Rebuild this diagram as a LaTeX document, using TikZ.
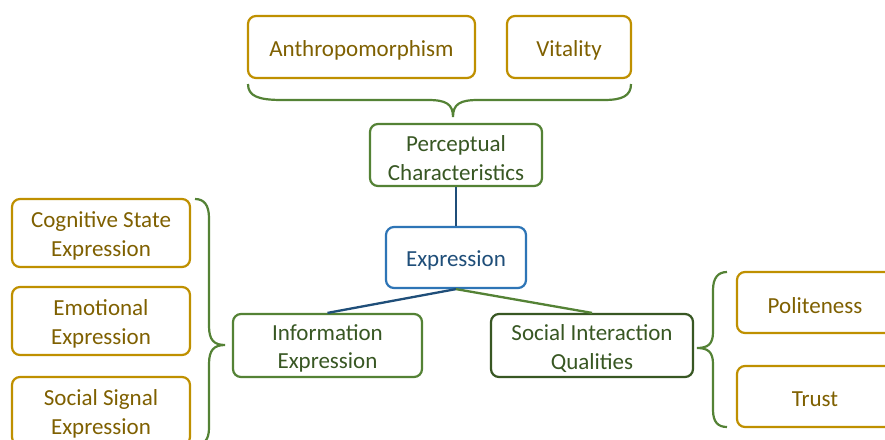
\documentclass[tikz,border=0pt]{standalone}
\usepackage{fontspec}
\setmainfont{Carlito}
\definecolor{golddraw}{HTML}{BF9000}
\definecolor{goldtext}{HTML}{7F6000}
\definecolor{greendraw}{HTML}{548235}
\definecolor{greentext}{HTML}{385723}
\definecolor{bluedraw}{HTML}{2E75B6}
\definecolor{bluetext}{HTML}{1F4E79}
\begin{document}
\begin{tikzpicture}[x=1pt,y=-1pt,
  box/.style={draw, rectangle, rounded corners=8pt, line width=2.2pt, fill=white, inner sep=0pt},
  goldbox/.style={box, draw=golddraw},
  greenbox/.style={box, draw=greendraw},
  bluebox/.style={box, draw=bluedraw},
  darkbox/.style={box, draw=greentext},
  txt/.style={align=center, inner sep=0pt, font=\fontsize{23}{28.5}\selectfont, yshift=-3pt},
  goldtxt/.style={txt, text=goldtext},
  greentxt/.style={txt, text=greentext},
  bluetxt/.style={txt, text=bluetext},
  brace/.style={draw=greendraw, line width=2.2pt},
  link/.style={line width=2.3pt}]
\clip (0,0) rectangle (885,439);
\fill[white] (0,0) rectangle (885,439);
% boxes
\node[goldbox, minimum width=227pt, minimum height=62pt] (anth) at (361.5,47) {};
\node[goldbox, minimum width=124pt, minimum height=62pt] (vital) at (569,47) {};
\node[greenbox, minimum width=172pt, minimum height=62pt] (perc) at (456,155) {};
\node[bluebox, minimum width=140pt, minimum height=61pt] (expr) at (456,257.5) {};
\node[greenbox, minimum width=189pt, minimum height=63pt] (info) at (327.5,345.5) {};
\node[darkbox, minimum width=202pt, minimum height=63pt] (soc) at (592,345.5) {};
\node[goldbox, minimum width=178pt, minimum height=68pt] (cog) at (101,233) {};
\node[goldbox, minimum width=178pt, minimum height=68pt] (emo) at (101,321) {};
\node[goldbox, minimum width=178pt, minimum height=68pt] (sig) at (101,411) {};
\node[goldbox, minimum width=156pt, minimum height=61pt] (pol) at (815,302.5) {};
\node[goldbox, minimum width=156pt, minimum height=61pt] (trust) at (815,396.5) {};
% texts
\node[goldtxt] (anth-t) at (anth.center) {Anthropomorphism};
\node[goldtxt] (vital-t) at (vital.center) {Vitality};
\node[greentxt] (perc-t) at (perc.center) {Perceptual\\Characteristics};
\node[bluetxt] (expr-t) at (expr.center) {Expression};
\node[greentxt] (info-t) at (info.center) {Information\\Expression};
\node[greentxt] (soc-t) at (soc.center) {Social Interaction\\Qualities};
\node[goldtxt] (cog-t) at (cog.center) {Cognitive State\\Expression};
\node[goldtxt] (emo-t) at (emo.center) {Emotional\\Expression};
\node[goldtxt] (sig-t) at (sig.center) {Social Signal\\Expression};
\node[goldtxt] (pol-t) at (pol.center) {Politeness};
\node[goldtxt] (trust-t) at (trust.center) {Trust};
% connectors
\draw[link, draw=bluetext] (perc.south) -- (expr.north);
\draw[link, draw=bluetext] (expr.south) -- (info.north);
\draw[link, draw=greendraw] (expr.south) -- (soc.north);
% top brace
\draw[brace] (248,84) .. controls (248,96) and (258,100) .. (282,100) -- (428,100)
  .. controls (446,100) and (453,104) .. (453,117)
  .. controls (453,104) and (460,100) .. (478,100) -- (604,100)
  .. controls (622,100) and (631,96) .. (631,84);
% left brace
\draw[brace] (195,199) .. controls (204,199) and (209,205) .. (209,218) -- (209,326)
  .. controls (209,340) and (214,345) .. (225,345)
  .. controls (214,345) and (209,350) .. (209,364) -- (209,428)
  .. controls (209,440) and (204,445) .. (195,445);
% right brace
\draw[brace] (727,272) .. controls (718,272) and (713,278) .. (713,290) -- (713,332)
  .. controls (713,344) and (708,348) .. (697,348)
  .. controls (708,348) and (713,352) .. (713,364) -- (713,410)
  .. controls (713,422) and (718,427) .. (727,427);
\end{tikzpicture}
\end{document}
